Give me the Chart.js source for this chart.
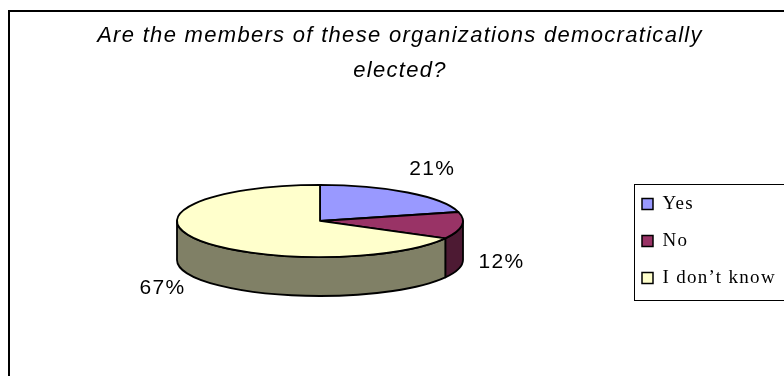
<!DOCTYPE html>
<html lang="en">
<head>
<meta charset="UTF-8" />
<title>Are the members of these organizations democratically elected?</title>
<script src="https://cdn.jsdelivr.net/npm/chart.js@4.4.0/dist/chart.umd.min.js"></script>
<style>
  html, body { margin: 0; padding: 0; background: #fff; }
  #wrap { width: 784px; height: 376px; }
</style>
</head>
<body>
<div id="wrap"><canvas id="pie" width="784" height="376"></canvas></div>
<script>
// Data
const titleLines = ['Are the members of these organizations democratically', 'elected?'];
const answers    = ['Yes', 'No', 'I don\u2019t know'];
const shares     = [21, 12, 67];

// Look of the fake 3D pie (Excel style)
const topColours  = ['#9999ff', '#993366', '#ffffcc'];
const sideColours = ['#4d4d80', '#4d1a33', '#808066'];
const TILT  = 0.252;     // vertical squash of the pie top
const DEPTH = 39;        // thickness of the pie, px
const SPACING = '1.3px'; // Excel-ish wide letter spacing

function arcProps(arc) {
  return arc.getProps(['x', 'y', 'startAngle', 'endAngle', 'outerRadius'], true);
}

const pie3d = {
  id: 'pie3d',
  beforeLayout(chart) { chart.ctx.letterSpacing = SPACING; },
  beforeDraw(chart) {
    const ctx = chart.ctx;
    ctx.letterSpacing = SPACING;
    ctx.save();
    ctx.fillStyle = '#fff';
    ctx.fillRect(0, 0, chart.width, chart.height);
    // chart frame, runs off the right and bottom edges
    ctx.lineWidth = 2;
    ctx.strokeStyle = '#000';
    ctx.strokeRect(9, 11, chart.width + 20, chart.height + 20);
    ctx.restore();
  },
  beforeDatasetsDraw(chart) {
    const ctx = chart.ctx;
    const arcs = chart.getDatasetMeta(0).data;
    ctx.save();
    ctx.lineWidth = 1.8;
    ctx.strokeStyle = '#000';
    ctx.lineJoin = 'round';

    // front side of the cylinder (angles 0..PI are the near half)
    arcs.forEach((arc, i) => {
      const { x, y, startAngle, endAngle, outerRadius } = arcProps(arc);
      const ry = outerRadius * TILT;
      const a = Math.max(startAngle, 0), b = Math.min(endAngle, Math.PI);
      if (a >= b) return;
      ctx.beginPath();
      ctx.ellipse(x, y, outerRadius, ry, 0, a, b);
      ctx.lineTo(x + outerRadius * Math.cos(b), y + ry * Math.sin(b) + DEPTH);
      ctx.ellipse(x, y + DEPTH, outerRadius, ry, 0, b, a, true);
      ctx.closePath();
      ctx.fillStyle = sideColours[i];
      ctx.fill();
      ctx.stroke();
    });

    // top face
    arcs.forEach((arc, i) => {
      const { x, y, startAngle, endAngle, outerRadius } = arcProps(arc);
      const ry = outerRadius * TILT;
      ctx.beginPath();
      ctx.moveTo(x, y);
      ctx.ellipse(x, y, outerRadius, ry, 0, startAngle, endAngle);
      ctx.closePath();
      ctx.fillStyle = topColours[i];
      ctx.fill();
      ctx.stroke();
    });
    ctx.restore();
    return false; // skip the flat default pie
  },
  afterDraw(chart) {
    const ctx = chart.ctx;
    const arcs = chart.getDatasetMeta(0).data;
    const total = shares.reduce((s, v) => s + v, 0);
    ctx.save();
    ctx.letterSpacing = SPACING;

    // percentage labels outside the slices
    ctx.font = '21px "Liberation Sans", Arial, sans-serif';
    ctx.fillStyle = '#000';
    ctx.textAlign = 'center';
    ctx.textBaseline = 'middle';
    arcs.forEach((arc, i) => {
      const { x, y, startAngle, endAngle, outerRadius } = arcProps(arc);
      const ry = outerRadius * TILT;
      const mid = (startAngle + endAngle) / 2;
      const s = Math.sin(mid);
      const lx = x + (outerRadius + 40) * Math.cos(mid);
      const ly = y + (ry + 30) * s + (s > 0 ? DEPTH * 0.85 : 0);
      ctx.fillText(Math.round(shares[i] / total * 100) + '%', lx, ly);
    });

    // frame round the legend
    const boxes = chart.legend.legendHitBoxes;
    if (boxes && boxes.length) {
      const first = boxes[0], last = boxes[boxes.length - 1];
      ctx.lineWidth = 1;
      ctx.strokeStyle = '#000';
      const top = Math.round(first.top - 11) + 0.5;
      const bottom = Math.round(last.top + last.height + 12) + 0.5;
      ctx.strokeRect(Math.round(first.left - 8) + 0.5, top, chart.width, bottom - top);
    }
    ctx.restore();
  }
};

new Chart(document.getElementById('pie'), {
  type: 'pie',
  data: {
    labels: answers,
    datasets: [{
      data: shares,
      backgroundColor: topColours,
      borderColor: '#000',
      borderWidth: 1.5,
      radius: 143,
    }],
  },
  options: {
    responsive: false,
    animation: false,
    events: [],
    layout: { padding: { left: 16, right: 0, top: 0, bottom: 22 } },
    plugins: {
      title: {
        display: true,
        text: titleLines,
        color: '#000',
        font: { family: '"Liberation Sans", Arial, sans-serif', size: 22, style: 'italic', weight: 'normal', lineHeight: 1.59 },
        padding: { top: 18, bottom: 0 },
      },
      legend: {
        position: 'right',
        maxWidth: 160,
        // empty legend title only pushes the entries down
        title: { display: true, text: '', padding: { top: 118, bottom: 0 }, font: { size: 10, lineHeight: 1 } },
        labels: {
          color: '#000',
          font: { family: '"Liberation Serif", "Times New Roman", serif', size: 19 },
          boxWidth: 11,
          boxHeight: 11,
          padding: 18,
        },
      },
      tooltip: { enabled: false },
    },
  },
  plugins: [pie3d],
});
</script>
</body>
</html>
